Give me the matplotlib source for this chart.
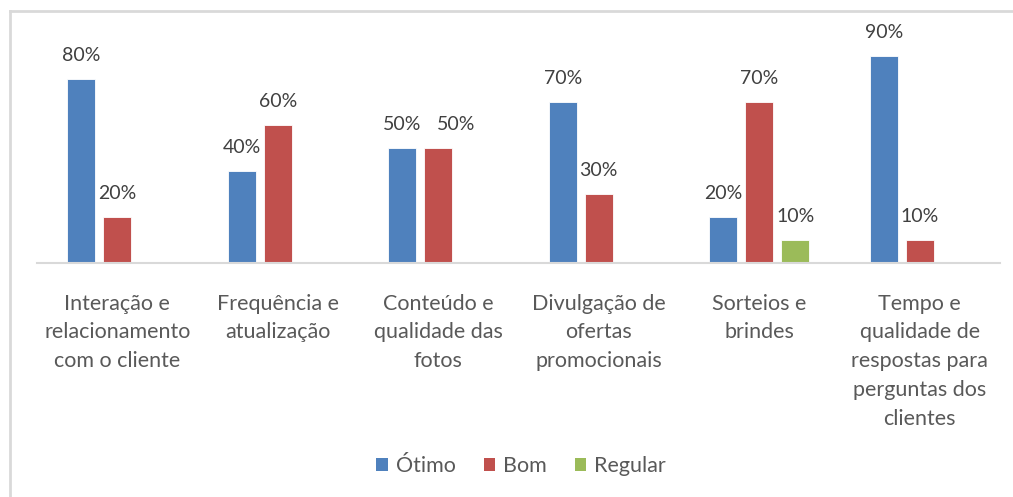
import matplotlib as mpl

mpl.use("Agg")
import matplotlib.pyplot as plt
from matplotlib.lines import Line2D
from matplotlib.patches import Patch
import numpy as np

# chart data (percent)
CATEGORIES = [
    "Interação e\nrelacionamento\ncom o cliente",
    "Frequência e\natualização",
    "Conteúdo e\nqualidade das\nfotos",
    "Divulgação de\nofertas\npromocionais",
    "Sorteios e\nbrindes",
    "Tempo e\nqualidade de\nrespostas para\nperguntas dos\nclientes",
]
SERIES = ["Ótimo", "Bom", "Regular"]
OTIMO = [80, 40, 50, 70, 20, 90]
BOM = [20, 60, 50, 30, 70, 10]
REGULAR = [0, 0, 0, 0, 10, 0]

BLUE = "#4f81bd"
RED = "#c0504d"
GREEN = "#9bbb59"
TEXT = "#595959"
LABEL = "#404040"
LINE = "#d9d9d9"

plt.rcParams["font.family"] = ["Lato", "DejaVu Sans"]

fig = plt.figure(figsize=(10.13, 4.97), dpi=100)
ax = fig.add_axes([37 / 1013, 1 - 263 / 497, (1000 - 37) / 1013, 230 / 497])

x = np.arange(len(CATEGORIES))
width = 0.175
step = 0.225
all_vals = [OTIMO, BOM, REGULAR]
for k, (vals, color) in enumerate(zip(all_vals, [BLUE, RED, GREEN])):
    xs = x + (k - 1) * step
    ax.bar(xs, vals, width=width, color=color, edgecolor="white", linewidth=0.6, zorder=2)
    for i, (xi, v) in enumerate(zip(xs, vals)):
        if not v:
            continue
        # nudge a label sideways when it sits level with its neighbour's
        dx = 13 if k > 0 and all_vals[k - 1][i] == v else 0
        ax.annotate(f"{v}%", (xi, v), xytext=(dx, 11), textcoords="offset points",
                    ha="center", va="bottom", fontsize=14, color=LABEL)

ax.set_xlim(-0.5, len(CATEGORIES) - 0.5)
ax.set_ylim(0, 100)
ax.set_yticks([])
ax.set_xticks(x)
ax.set_xticklabels(CATEGORIES, fontsize=15.5, color=TEXT, linespacing=1.55)
ax.tick_params(axis="x", length=0, pad=22)
for s in ["top", "right", "left"]:
    ax.spines[s].set_visible(False)
ax.spines["bottom"].set_color(LINE)
ax.spines["bottom"].set_linewidth(1.5)

handles = [Patch(facecolor=c, edgecolor="none") for c in [BLUE, RED, GREEN]]
fig.legend(handles, SERIES, loc="center", bbox_to_anchor=(521 / 1013, 1 - 466 / 497),
           ncol=3, frameon=False, fontsize=15.5, labelcolor=TEXT,
           handlelength=0.55, handleheight=0.55, handletextpad=0.35, columnspacing=1.3)

# outer frame (left and top edges visible)
fig.add_artist(Line2D([9.5 / 1013, 9.5 / 1013], [0, 1 - 11 / 497], color=LINE,
                      linewidth=2, transform=fig.transFigure))
fig.add_artist(Line2D([9.5 / 1013, 1], [1 - 11 / 497, 1 - 11 / 497], color=LINE,
                      linewidth=2, transform=fig.transFigure))

fig.savefig("out.png", dpi=100, facecolor="white")
